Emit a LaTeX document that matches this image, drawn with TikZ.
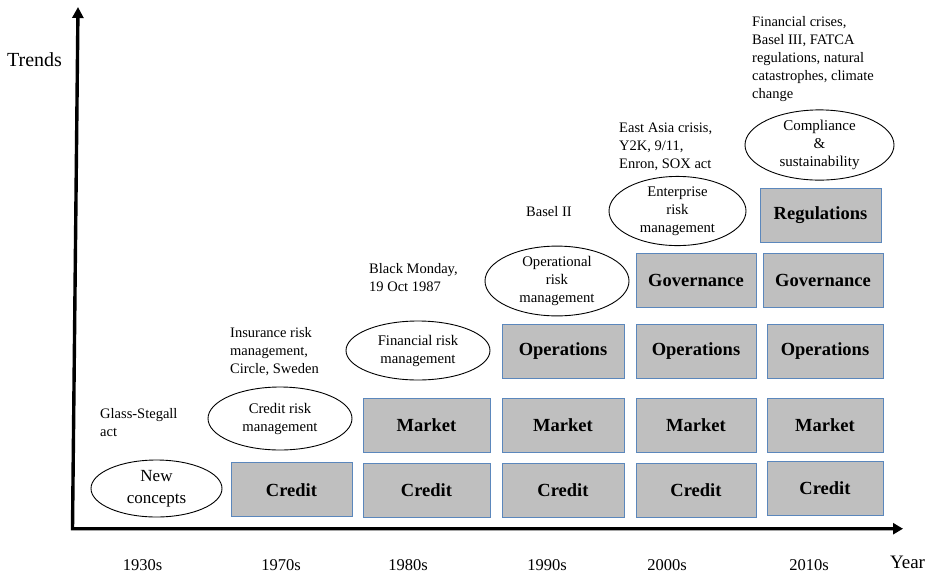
\documentclass[tikz,border=0pt]{standalone}
\usepackage{fontspec}
\setmainfont{Liberation Serif}
\usetikzlibrary{shapes.geometric,arrows.meta}
\begin{document}
\begin{tikzpicture}[x=1pt,y=-1pt,
  riskbox/.style={draw=boxblue,fill=boxgray,line width=1pt,minimum width=#1,minimum height=54pt,inner sep=0pt,
    font=\fontsize{18.5}{22}\selectfont\bfseries},
  riskbox/.default=121pt,
  oval/.style={draw=black,line width=0.9pt,ellipse,inner sep=0pt,align=center,
    font=\fontsize{14.7}{18}\selectfont},
  note/.style={anchor=west,inner sep=0pt,align=left,font=\fontsize{14.5}{18}\selectfont},
  yearlbl/.style={inner sep=0pt,font=\fontsize{16.5}{20}\selectfont},
  axis/.style={line width=3.4pt,line join=miter,{Triangle[length=11pt,width=11pt]}-{Triangle[length=10pt,width=11pt]}}
]
\definecolor{boxgray}{HTML}{BFBFBF}
\definecolor{boxblue}{HTML}{5B87BC}
\useasboundingbox (0,0) rectangle (934,574);

% axes
\coordinate (ytop) at (78,7);
\coordinate (origin) at (72.5,528.7);
\coordinate (xend) at (903,528.7);
\draw[axis] (ytop) -- (origin) -- (xend);

\node[inner sep=0pt,font=\fontsize{20}{24}\selectfont] (trends) at (34.5,60) {Trends};
\node[inner sep=0pt,font=\fontsize{19}{23}\selectfont] (year) at (907.5,562) {Year};

% year labels
\node[yearlbl] (y1930) at (142.5,565.5) {1930s};
\node[yearlbl] (y1970) at (281,565.5) {1970s};
\node[yearlbl] (y1980) at (408,565.5) {1980s};
\node[yearlbl] (y1990) at (547,565.5) {1990s};
\node[yearlbl] (y2000) at (667,565.5) {2000s};
\node[yearlbl] (y2010) at (809,565.5) {2010s};

% 1930s
\node[oval,minimum width=131pt,minimum height=57pt,font=\fontsize{17}{22}\selectfont] (newc) at (156.5,488.5) {New\\concepts};
\node[note] (glass) at (100,422.5) {Glass-Stegall\\act};

% 1970s
\node[riskbox] (c70) at (291.5,489.7) {Credit};
\node[oval,minimum width=144pt,minimum height=63pt] (crm) at (280,418.5) {Credit risk\\management};
\node[note] (ins) at (230,352) {Insurance risk\\management,\\Circle, Sweden};

% 1980s
\node[riskbox,minimum width=127pt] (c80) at (426.5,490) {Credit};
\node[riskbox,minimum width=127pt] (m80) at (426.5,425) {Market};
\node[oval,minimum width=144pt,minimum height=59pt] (frm) at (418,350.5) {Financial risk\\management};
\node[note] (black) at (369,278) {Black Monday,\\19 Oct 1987};

% 1990s
\node[riskbox,minimum width=122pt] (c90) at (563,490) {Credit};
\node[riskbox,minimum width=122pt] (m90) at (563,425) {Market};
\node[riskbox,minimum width=122pt] (o90) at (563,351) {Operations};
\node[oval,minimum width=144pt,minimum height=62pt] (orm) at (557,281) {Operational\\risk\\management};
\node[note] (basel2) at (526,212) {Basel II};

% 2000s
\node[riskbox,minimum width=120pt] (c00) at (696,490) {Credit};
\node[riskbox,minimum width=120pt] (m00) at (696,425) {Market};
\node[riskbox,minimum width=120pt] (o00) at (696,351) {Operations};
\node[riskbox,minimum width=120pt] (g00) at (696,280) {Governance};
\node[oval,minimum width=137pt,minimum height=62pt] (erm) at (677.5,211) {Enterprise\\risk\\management};
\node[note] (asia) at (619,147) {East Asia crisis,\\Y2K, 9/11,\\Enron, SOX act};

% 2010s
\node[riskbox,minimum width=116pt] (c10) at (825,488) {Credit};
\node[riskbox,minimum width=116pt] (m10) at (825,425) {Market};
\node[riskbox,minimum width=116pt] (o10) at (825,351) {Operations};
\node[riskbox,minimum width=120pt] (g10) at (823,280) {Governance};
\node[riskbox,minimum width=121pt] (r10) at (820.5,215) {Regulations};
\node[oval,minimum width=149pt,minimum height=62pt,font=\fontsize{15}{18}\selectfont] (comp) at (819.5,145) {Compliance\\\&\\sustainability};
\node[note] (fin) at (752,59.5) {Financial crises,\\Basel III, FATCA\\regulations, natural\\catastrophes, climate\\change};
\end{tikzpicture}
\end{document}
